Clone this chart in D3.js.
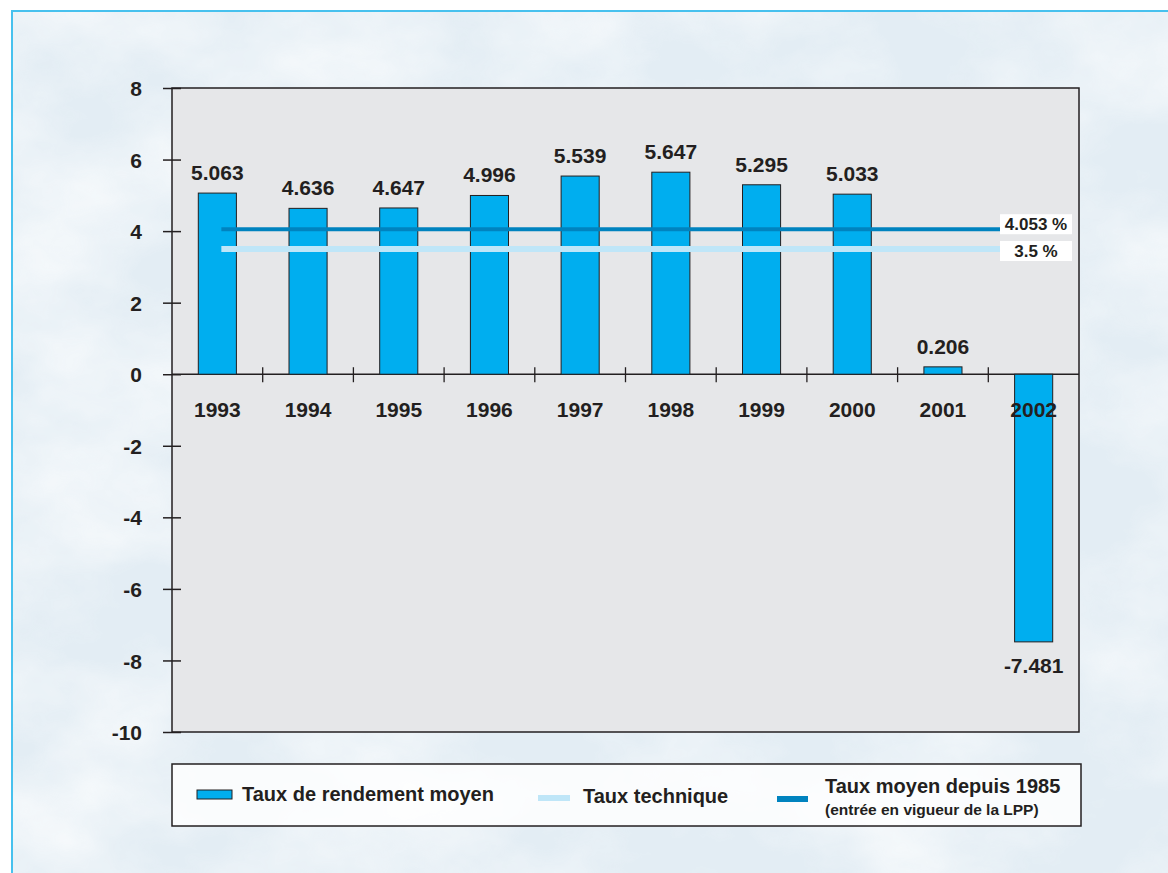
<!DOCTYPE html>
<html>
<head>
<meta charset="utf-8">
<script src="https://cdn.jsdelivr.net/npm/d3@7"></script>
<style>
  html, body { margin: 0; padding: 0; background: #ffffff; }
  svg { display: block; }
  text { font-family: "Liberation Sans", Arial, sans-serif; font-weight: bold; fill: #231f20; }
</style>
</head>
<body>
<svg id="chart" width="1168" height="873"></svg>
<script>
// Average yearly return of the fund, 1993–2002 (%)
const years = ["1993", "1994", "1995", "1996", "1997", "1998", "1999", "2000", "2001", "2002"];
const returns = [5.063, 4.636, 4.647, 4.996, 5.539, 5.647, 5.295, 5.033, 0.206, -7.481];
const valueLabels = ["5.063", "4.636", "4.647", "4.996", "5.539", "5.647", "5.295", "5.033", "0.206", "-7.481"];

// Reference rates drawn as horizontal lines
const technicalRate = 3.5;          // Taux technique
const averageSince1985 = 4.053;     // Taux moyen depuis 1985
const rateLabels = ["4.053 %", "3.5 %"];
const yTicks = [8, 6, 4, 2, 0, -2, -4, -6, -8, -10];
const yTickLabels = ["8", "6", "4", "2", "0", "-2", "-4", "-6", "-8", "-10"];

const legendItems = [
  { label: "Taux de rendement moyen", sub: null, kind: "bar" },
  { label: "Taux technique", sub: null, kind: "tech" },
  { label: "Taux moyen depuis 1985", sub: "(entrée en vigueur de la LPP)", kind: "avg" }
];

const colors = { bar: "#00aeef", tech: "#bfe6f8", avg: "#0083bf", ink: "#231f20", plot: "#e6e7e9" };

const svg = d3.select("#chart");
const W = 1168, H = 873;

// Soft cloudy backdrop
const defs = svg.append("defs");
const f = defs.append("filter").attr("id", "clouds").attr("x", 0).attr("y", 0).attr("width", "100%").attr("height", "100%");
f.append("feTurbulence").attr("type", "fractalNoise").attr("baseFrequency", "0.006 0.009").attr("numOctaves", 5).attr("seed", 7);
f.append("feColorMatrix").attr("type", "matrix")
  .attr("values", "0 0 0 0 1  0 0 0 0 1  0 0 0 0 1  1.6 0 0 0 -0.55");
svg.append("rect").attr("width", W).attr("height", H).attr("fill", "#ffffff");
svg.append("rect").attr("x", 11).attr("y", 10).attr("width", W).attr("height", H).attr("fill", "#e3edf4");
svg.append("rect").attr("x", 11).attr("y", 10).attr("width", W).attr("height", H).attr("filter", "url(#clouds)").attr("opacity", 0.85);
svg.append("rect").attr("x", 12).attr("y", 11).attr("width", W).attr("height", H)
  .attr("fill", "none").attr("stroke", "#47c1ee").attr("stroke-width", 2);

// Plot area
const m = { left: 172, right: 1079, top: 88, bottom: 732 };
const x = d3.scaleBand().domain(years).range([m.left, m.right]).paddingInner(0).paddingOuter(0);
const y = d3.scaleLinear().domain([-10, 8]).range([m.bottom, m.top]);

svg.append("rect")
  .attr("x", m.left).attr("y", m.top)
  .attr("width", m.right - m.left).attr("height", m.bottom - m.top)
  .attr("fill", colors.plot).attr("stroke", colors.ink).attr("stroke-width", 1.5);

// Y axis with ticks crossing the left edge
const yAxis = d3.axisLeft(y).tickValues(yTicks).tickSize(0).tickPadding(0)
  .tickFormat((d, i) => yTickLabels[i]);
const gy = svg.append("g").attr("transform", `translate(${m.left},0)`).call(yAxis);
gy.select(".domain").remove();
gy.selectAll(".tick line").attr("x1", -9).attr("x2", 9).attr("stroke", colors.ink).attr("stroke-width", 1.5);
gy.selectAll(".tick text").attr("x", -30).attr("dy", "0.36em")
  .style("font-size", "21px").style("font-family", "Liberation Sans, Arial, sans-serif")
  .style("font-weight", "bold").attr("fill", colors.ink);

// Zero line with category separators
svg.append("line").attr("x1", m.left).attr("x2", m.right).attr("y1", y(0)).attr("y2", y(0))
  .attr("stroke", colors.ink).attr("stroke-width", 1.5);
svg.append("g").selectAll("line").data(years.slice(1)).join("line")
  .attr("x1", d => x(d)).attr("x2", d => x(d))
  .attr("y1", y(0) - 7).attr("y2", y(0) + 8)
  .attr("stroke", colors.ink).attr("stroke-width", 1.3);

// Bars
const barW = x.bandwidth() * 0.42;
svg.append("g").selectAll("rect").data(returns).join("rect")
  .attr("x", (d, i) => x(years[i]) + x.bandwidth() / 2 - barW / 2)
  .attr("y", d => y(Math.max(0, d)))
  .attr("width", barW)
  .attr("height", d => Math.abs(y(d) - y(0)))
  .attr("fill", colors.bar).attr("stroke", colors.ink).attr("stroke-width", 1);

// Reference lines
const lineX0 = x(years[0]) + x.bandwidth() / 2 + 4;
const lineX1 = 1000;
svg.append("line").attr("x1", lineX0).attr("x2", lineX1)
  .attr("y1", y(technicalRate)).attr("y2", y(technicalRate))
  .attr("stroke", colors.tech).attr("stroke-width", 6);
svg.append("line").attr("x1", lineX0).attr("x2", lineX1)
  .attr("y1", y(averageSince1985)).attr("y2", y(averageSince1985))
  .attr("stroke", colors.avg).attr("stroke-width", 4);

// Rate labels in white boxes (upper one nudged up, lower one nudged down)
[[averageSince1985, rateLabels[0], -15], [technicalRate, rateLabels[1], -8]].forEach(([v, t, off]) => {
  const top = y(v) + off;
  svg.append("rect").attr("x", lineX1).attr("y", top).attr("width", 72).attr("height", 20).attr("fill", "#ffffff");
  svg.append("text").attr("x", lineX1 + 36).attr("y", top + 16).attr("text-anchor", "middle")
    .style("font-size", "17px").text(t);
});

// Value labels
svg.append("g").selectAll("text").data(returns).join("text")
  .attr("x", (d, i) => x(years[i]) + x.bandwidth() / 2)
  .attr("y", d => d >= 0 ? y(d) - 13 : y(d) + 31)
  .attr("text-anchor", "middle")
  .style("font-size", "21px")
  .text((d, i) => valueLabels[i]);

// Year labels below the zero line
svg.append("g").selectAll("text").data(years).join("text")
  .attr("x", d => x(d) + x.bandwidth() / 2)
  .attr("y", y(0) + 43)
  .attr("text-anchor", "middle")
  .style("font-size", "21px")
  .text(d => d);

// Legend
const lg = svg.append("g");
lg.append("rect").attr("x", 172).attr("y", 764).attr("width", 909).attr("height", 62)
  .attr("fill", "#ffffff").attr("fill-opacity", 0.8).attr("stroke", colors.ink).attr("stroke-width", 1.5);

const legendPos = [197, 538, 777];
legendItems.forEach((it, i) => {
  const lx = legendPos[i];
  if (it.kind === "bar") {
    lg.append("rect").attr("x", lx).attr("y", 790).attr("width", 35).attr("height", 9)
      .attr("fill", colors.bar).attr("stroke", colors.ink).attr("stroke-width", 1);
    lg.append("text").attr("x", 242).attr("y", 801).style("font-size", "20px").text(it.label);
  } else if (it.kind === "tech") {
    lg.append("rect").attr("x", lx).attr("y", 795).attr("width", 32).attr("height", 6).attr("fill", colors.tech);
    lg.append("text").attr("x", 583).attr("y", 803).style("font-size", "20px").text(it.label);
  } else {
    lg.append("rect").attr("x", lx).attr("y", 796).attr("width", 31).attr("height", 6).attr("fill", colors.avg);
    lg.append("text").attr("x", 825).attr("y", 793).style("font-size", "20px").text(it.label);
    lg.append("text").attr("x", 825).attr("y", 815).style("font-size", "15.5px").text(it.sub);
  }
});
</script>
</body>
</html>
